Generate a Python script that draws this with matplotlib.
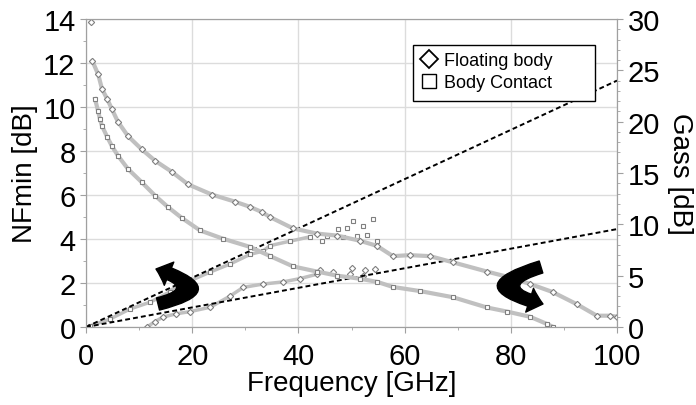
import numpy as np
import matplotlib
matplotlib.use('Agg')
import matplotlib.pyplot as plt
from matplotlib.patches import FancyArrowPatch, ArrowStyle, Rectangle
from matplotlib.path import Path
from matplotlib.lines import Line2D

plt.rcParams['font.family'] = ['Liberation Sans', 'DejaVu Sans']

# Gass, floating body (upper decaying curve, right axis)
gass_fb_f = [1.0, 1.2, 2.3, 3.0, 4.0, 4.9, 6.0, 7.9, 10.5, 13.0, 16.2, 19.2, 23.7, 28.1, 30.9,
             33.1, 34.7, 39.0, 43.5, 47.3, 51.6, 54.8, 57.8, 61.0, 64.8, 69.1, 75.5, 79.3,
             83.6, 87.9, 92.5, 96.2, 98.7, 100.0]
gass_fb = [29.7, 25.9, 24.6, 23.2, 22.2, 21.2, 20.0, 18.6, 17.3, 16.2, 15.1, 13.9, 12.9, 12.2, 11.7,
           11.2, 10.7, 9.6, 9.1, 8.9, 8.4, 7.9, 6.9, 7.0, 6.9, 6.3, 5.4, 4.9,
           4.2, 3.4, 2.2, 1.1, 1.1, 1.0]

# Gass, body contact (lower decaying curve, right axis)
gass_bc_f = [1.7, 2.3, 2.6, 3.0, 4.0, 4.9, 6.0, 7.9, 10.5, 13.0, 15.4, 18.1, 21.5, 25.8, 30.9,
             34.7, 39.0, 43.5, 47.3, 51.6, 54.8, 57.8, 62.9, 69.1, 75.5, 79.3, 83.6, 86.8, 88.0]
gass_bc = [22.2, 21.0, 20.3, 19.6, 18.5, 17.6, 16.7, 15.4, 14.1, 12.8, 11.7, 10.6, 9.4, 8.6, 7.8,
           6.9, 5.9, 5.4, 5.0, 4.7, 4.4, 3.9, 3.5, 2.9, 1.9, 1.5, 1.0, 0.3, 0.0]

# NFmin, body contact (upper rising scatter, left axis)
nf_bc_f = [0.8, 4.5, 8.3, 12.1, 15.8, 17.7, 19.6, 23.4, 27.1, 30.9, 33.3, 34.7, 38.4, 42.2,
           44.4, 45.4, 47.5, 48.4, 49.1, 50.3, 51.0, 52.2, 52.9, 54.0, 54.8]
nf_bc = [0.05, 0.36, 0.82, 1.13, 1.6, 2.05, 2.1, 2.5, 2.86, 3.3, 3.45, 3.7, 3.9, 4.1,
         3.9, 4.15, 4.45, 4.1, 4.5, 4.8, 4.15, 4.6, 4.2, 4.9, 3.9]

# NFmin, floating body (lower rising scatter, left axis)
nf_fb_f = [11.5, 13.0, 14.5, 17.0, 19.6, 23.4, 27.1, 29.6, 33.3, 37.1, 40.3, 43.5, 44.0,
           46.5, 49.7, 50.0, 52.2, 52.5, 54.5]
nf_fb = [0.0, 0.25, 0.45, 0.6, 0.7, 0.9, 1.4, 1.8, 1.95, 2.05, 2.2, 2.4, 2.6,
         2.5, 2.4, 2.7, 2.3, 2.6, 2.65]

# linear fits of NFmin
fit_f = [0, 100]
fit_bc = [0, 11.2]
fit_fb = [0, 4.45]

fig = plt.figure(figsize=(6.96, 4.06), dpi=100)
ax = fig.add_axes([86/696, 1 - 328/406, 531/696, 308/406])
ax2 = ax.twinx()

spine_col = '#a0a0a0'
grid_col = '#dcdcdc'
curve_col = '#c0c0c0'
edge_col = '#808080'

ax.set_xlim(0, 100)
ax.set_ylim(0, 14)
ax2.set_ylim(0, 30)
ax.set_xticks(np.arange(0, 101, 20))
ax.set_xticks(np.arange(10, 100, 20), minor=True)
ax.set_yticks(np.arange(0, 15, 2))
ax.set_yticks(np.arange(1, 14, 2), minor=True)
ax2.set_yticks(np.arange(0, 31, 5))
ax2.set_yticks(np.arange(0, 31, 1), minor=True)
ax.grid(True, which='major', color=grid_col, lw=1)
ax.set_axisbelow(True)

for a in (ax, ax2):
    for s in a.spines.values():
        s.set_color(spine_col)
    a.tick_params(which='both', direction='out', color=spine_col, labelsize=21)
    a.tick_params(which='major', length=4)
    a.tick_params(which='minor', length=2.5)
ax.tick_params(axis='x', pad=7)

ax.set_xlabel('Frequency [GHz]', fontsize=20, labelpad=0)
ax.set_ylabel('NFmin [dB]', fontsize=20, labelpad=4)
ax2.set_ylabel('Gass [dB]', fontsize=20, rotation=270, labelpad=24)

# NFmin fits and measurements
ax.plot(fit_f, fit_bc, color='black', lw=1.4, dashes=(2.5, 1.6), zorder=4)
ax.plot(fit_f, fit_fb, color='black', lw=1.4, dashes=(2.5, 1.6), zorder=4)
ax.plot(nf_bc_f[:14], nf_bc[:14], color=curve_col, lw=2.5, zorder=2)
ax.plot(nf_fb_f[:12], nf_fb[:12], color=curve_col, lw=2.5, zorder=2)
ax.plot(nf_bc_f, nf_bc, ls='none', marker='s', ms=3.5, mfc='white', mec=edge_col, mew=0.8, zorder=3)
ax.plot(nf_fb_f, nf_fb, ls='none', marker='D', ms=3.2, mfc='white', mec=edge_col, mew=0.8, zorder=3)

# Gass curves
ax2.plot(gass_fb_f[1:], gass_fb[1:], color=curve_col, lw=3)
ax2.plot(gass_fb_f, gass_fb, ls='none', marker='D', ms=3.2, mfc='white', mec=edge_col, mew=0.8)
ax2.plot(gass_bc_f, gass_bc, color=curve_col, lw=3)
ax2.plot(gass_bc_f, gass_bc, ls='none', marker='s', ms=3.2, mfc='white', mec=edge_col, mew=0.8)

# curved arrows pointing to the axes
style = ArrowStyle.Simple(head_length=0.5, head_width=0.9, tail_width=0.45)
codes = [Path.MOVETO, Path.CURVE3, Path.CURVE3]
left_arrow = Path([(0.1356, 0.0747), (0.2486, 0.1234), (0.1318, 0.1883)], codes)
right_arrow = Path([(0.8569, 0.1948), (0.7326, 0.1299), (0.8606, 0.0747)], codes)
for p in (left_arrow, right_arrow):
    arr = FancyArrowPatch(path=p, arrowstyle=style, mutation_scale=20,
                          color='black', transform=ax2.transAxes, zorder=6)
    ax2.add_patch(arr)

# legend with a wide box like the original
ax2.add_patch(Rectangle((327/531, 226/308), 182/531, 56/308, transform=ax2.transAxes,
                        facecolor='white', edgecolor='black', lw=1.0, zorder=7))
handles = [Line2D([], [], ls='none', marker='D', ms=9, mfc='white', mec='black', mew=1.3),
           Line2D([], [], ls='none', marker='s', ms=9.5, mfc='white', mec='black', mew=1.0)]
leg = ax2.legend(handles, ['Floating body', 'Body Contact'], loc='upper left',
                 bbox_to_anchor=(329/531, 281/308), fontsize=13, frameon=False,
                 handlelength=0.8, handletextpad=0.45, borderpad=0.35,
                 labelspacing=0.25, borderaxespad=0)
leg.set_zorder(8)

fig.savefig('out.png', dpi=100)
